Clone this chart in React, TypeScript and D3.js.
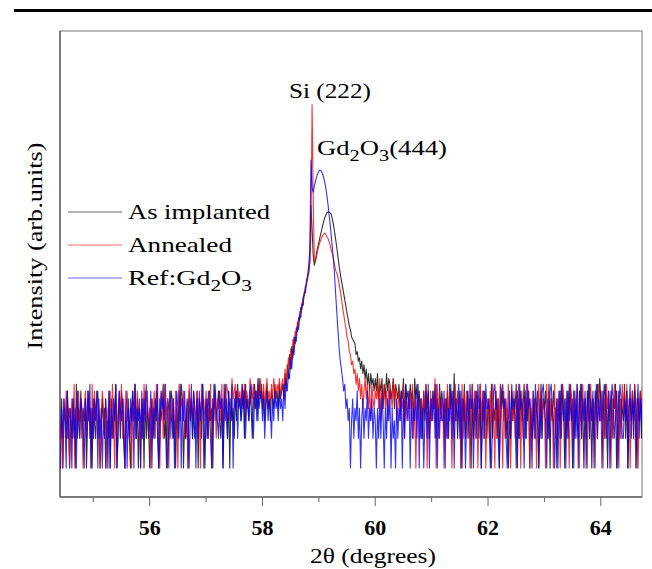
import React from "react";
import * as d3 from "d3";

// 2θ sampling (degrees) for each recorded segment
const STEP = 0.02;
const LEFT_START = 54.4;
const PEAK_START = 58.0;
const RIGHT_START = 60.0;

// Counts, base-36 digits, 54.40° – 57.98°
const blackLeft = [
  "32513426314253172436", "24351362415324631253", "41326153247135264213",
  "35214637251432516243", "13524362153472315426", "52314263751324163524",
  "23615427314526341753", "46325137426153426374", "53462745364257463857",
].join("");
const redLeft = [
  "42315362413527143625", "31462534172635241364", "25143627315246372514",
  "63241537264315274362", "41536274315627345163", "35264173546235174536",
  "43625174536243715462", "54637254765348567465", "64757365486574657586",
].join("");
const blueLeft = [
  "21425316243152416325", "43152637142536152413", "25316142537126435216",
  "14253617243516253742", "36142537126453721364", "25136427153624513726",
  "41526347135264215374", "32645173526437154625", "53746254367425638456",
].join("");

// Counts 58.00° – 59.98°
const blackPeak = [
  4, 6, 3, 5, 7, 4, 5, 3, 6, 5, 4, 7, 5, 6, 4, 7, 5, 6,
  7, 5, 9, 6, 11, 8, 14, 10, 17, 13, 21, 18, 26, 24, 33, 31, 42, 40, 53, 55, 68, 70, 86, 92, 120,
  450, 260, 140, 112, 125, 150, 170,
  190, 215, 240, 270, 300, 330, 355, 375, 385, 382, 378, 365, 325, 285, 240, 200, 165, 135, 108, 92,
  78, 68, 58, 50, 43, 36, 32, 27, 25, 21, 20, 19, 18, 14, 15, 12, 13, 10, 12, 9,
  11, 8, 10, 7, 9, 6, 9, 7, 8, 6,
];
const redPeak = [
  5, 7, 4, 6, 8, 5, 6, 4, 7, 5, 8, 6, 5, 7, 6, 8, 5, 7,
  8, 5, 10, 7, 9, 13, 10, 16, 12, 20, 17, 24, 22, 30, 27, 38, 36, 47, 44, 60, 58, 75, 80, 98, 125,
  240, 4650, 520, 122, 125, 140, 158,
  175, 192, 205, 218, 228, 236, 230, 218, 210, 195, 178, 158, 145, 128, 112, 98, 92, 84, 72, 62,
  52, 42, 36, 30, 26, 21, 19, 15, 14, 11, 12, 9, 10, 7, 9, 6, 8, 5, 7, 4,
  6, 8, 5, 7, 4, 6, 3, 7, 5, 4,
];
const bluePeak = [
  3, 5, 2, 4, 6, 3, 5, 4, 2, 5, 3, 6, 4, 5, 3, 6, 4, 5,
  3, 7, 4, 8, 6, 9, 8, 13, 10, 16, 14, 21, 19, 27, 25, 35, 33, 45, 44, 58, 60, 78, 88, 112, 160,
  1290, 680, 610, 700, 790, 870, 940,
  995, 1020, 1000, 950, 880, 790, 690, 580, 470, 370, 290, 220, 165, 125, 85, 55, 36, 24, 16, 12,
  10, 8, 6, 7, 4, 5, 3, 4, 1, 3, 5, 2, 4, 3, 6, 2, 4, 1, 3, 5,
  2, 4, 3, 6, 2, 4, 3, 5, 2, 4,
];

// Counts, base-36 digits, 60.00° – 64.74°
const blackRight = [
  "86957684759687568476", "57465837564756385746", "35263746253647253746",
  "42536274639352461537", "24635172536427153642", "53172436251746352413",
  "26354715263472536142", "35246137254632715364", "41536274152637416253",
  "26374152637415263748", "53627415362547136254", "372614536274153627",
].join("");
const redRight = [
  "65748365746375648573", "46354726354637251463", "25364715263548172635",
  "41527364152736451726", "36251473625147362514", "52637416253741625374",
  "14362537416253746152", "63514726354172635417", "25361475236417526347",
  "41627354162735416273", "36152746315274631527", "463725146372514637",
].join("");
const blueRight = [
  "31425263142536142315", "24361527436152436271", "52413627145362714253",
  "36152437261543726154", "13627451362745136274", "45213674521367452136",
  "27453162745316274531", "62743152674315267431", "35162743516274351627",
  "14725361472536147253", "61475236147523614752", "253614725361472536",
].join("");

const seriesNames = ["As implanted", "Annealed", "Ref:Gd2O3"];
const seriesColors = ["#000000", "#ff0000", "#0000ff"];
const xTicksMajor = [56, 58, 60, 62, 64];
const xTicksMinor = [55, 57, 59, 61, 63, 65];

type Pt = { t: number; c: number };

const decode = (s: string) => s.split("").map((ch) => parseInt(ch, 36));
const seg = (vals: number[], start: number): Pt[] =>
  vals.map((c, i) => ({ t: start + i * STEP, c }));
const build = (left: string, peak: number[], right: string): Pt[] => [
  ...seg(decode(left), LEFT_START),
  ...seg(peak, PEAK_START),
  ...seg(decode(right), RIGHT_START),
];

const series: Pt[][] = [
  build(blackLeft, blackPeak, blackRight),
  build(redLeft, redPeak, redRight),
  build(blueLeft, bluePeak, blueRight),
];

const W = 652;
const H = 569;
const M = { left: 60, right: 642, top: 31, bottom: 497 };
const FONT = '"Liberation Serif", "Times New Roman", Times, "DejaVu Serif", serif';

export default function App() {
  const x = d3.scaleLinear().domain([54.41, 64.73]).range([M.left, M.right]);
  const y = d3.scaleLog().domain([0.51, 25900]).range([M.bottom, M.top]);
  const line = d3
    .line<Pt>()
    .x((d) => x(d.t))
    .y((d) => y(Math.max(d.c, 1)));

  const legendY = [212, 245, 278];
  const legendW = [142, 104, 124];
  const ts = { fontFamily: FONT };

  return (
    <svg
      width={W}
      height={H}
      style={{ position: "absolute", left: 0, top: 0, background: "#fff", fontFamily: FONT }}
    >
      <defs>
        <clipPath id="plotclip">
          <rect x={M.left} y={M.top} width={M.right - M.left} height={M.bottom - M.top} />
        </clipPath>
      </defs>
      <rect x={0} y={0} width={W} height={H} fill="#fff" />
      {/* heavy rule at top */}
      <line x1={14} x2={652} y1={10.5} y2={10.5} stroke="#000" strokeWidth={3} />

      {/* frame */}
      <rect
        x={M.left}
        y={M.top}
        width={M.right - M.left}
        height={M.bottom - M.top}
        fill="none"
        stroke="#777"
        strokeWidth={1}
      />
      <line x1={M.left} x2={M.left} y1={M.top} y2={M.bottom} stroke="#666" strokeWidth={1.5} />
      <line x1={M.left} x2={M.right} y1={M.bottom} y2={M.bottom} stroke="#666" strokeWidth={1.5} />

      {/* data */}
      <g clipPath="url(#plotclip)">
        {series.map((s, i) => (
          <path
            key={i}
            d={line(s) || ""}
            fill="none"
            stroke={seriesColors[i]}
            strokeWidth={1.1}
            strokeOpacity={0.8}
            strokeLinejoin="round"
          />
        ))}
      </g>

      {/* x ticks */}
      {xTicksMajor.map((t) => (
        <g key={"M" + t}>
          <line x1={x(t)} x2={x(t)} y1={M.bottom} y2={M.bottom + 9} stroke="#666" strokeWidth={1} />
          <text
            x={x(t)}
            y={535}
            textAnchor="middle"
            fontSize={20}
            fontWeight="bold"
            textLength={22}
            lengthAdjust="spacingAndGlyphs"
            fill="#000"
            style={ts}
          >
            {t}
          </text>
        </g>
      ))}
      {xTicksMinor
        .filter((t) => x(t) >= M.left && x(t) <= M.right + 1)
        .map((t) => (
          <line key={"m" + t} x1={x(t)} x2={x(t)} y1={M.bottom} y2={M.bottom + 5} stroke="#666" strokeWidth={1} />
        ))}

      {/* axis titles */}
      <text x={310} y={563} fontSize={20} textLength={126} lengthAdjust="spacingAndGlyphs" fill="#000" style={ts}>
        2θ (degrees)
      </text>
      <text
        transform="translate(42,246) rotate(-90)"
        textAnchor="middle"
        fontSize={20}
        textLength={207}
        lengthAdjust="spacingAndGlyphs"
        fill="#000"
        style={ts}
      >
        Intensity (arb.units)
      </text>

      {/* peak labels */}
      <text x={289} y={98} fontSize={21} textLength={82} lengthAdjust="spacingAndGlyphs" fill="#000" style={ts}>
        Si (222)
      </text>
      <text x={317} y={155} fontSize={21} textLength={130} lengthAdjust="spacingAndGlyphs" fill="#000" style={ts}>
        Gd<tspan fontSize={16} dy={6}>2</tspan>
        <tspan dy={-6}>O</tspan>
        <tspan fontSize={16} dy={6}>3</tspan>
        <tspan dy={-6}>(444)</tspan>
      </text>

      {/* legend */}
      {seriesNames.map((name, i) => (
        <g key={name}>
          <line
            x1={68}
            x2={122}
            y1={legendY[i]}
            y2={legendY[i]}
            stroke={seriesColors[i]}
            strokeOpacity={0.6}
            strokeWidth={1}
          />
          {i < 2 ? (
            <text
              x={128}
              y={legendY[i] + 7}
              fontSize={21}
              textLength={legendW[i]}
              lengthAdjust="spacingAndGlyphs"
              fill="#000"
              style={ts}
            >
              {name}
            </text>
          ) : (
            <text
              x={128}
              y={legendY[i] + 7}
              fontSize={21}
              textLength={legendW[i]}
              lengthAdjust="spacingAndGlyphs"
              fill="#000"
              style={ts}
            >
              Ref:Gd<tspan fontSize={16} dy={6}>2</tspan>
              <tspan dy={-6}>O</tspan>
              <tspan fontSize={16} dy={6}>3</tspan>
            </text>
          )}
        </g>
      ))}
    </svg>
  );
}
